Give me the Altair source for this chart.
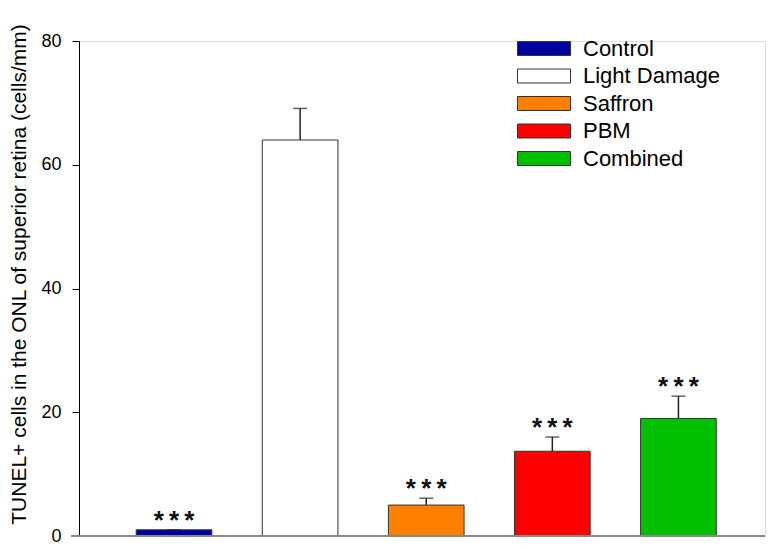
import altair as alt
import pandas as pd

groups = ["Control", "Light Damage", "Saffron", "PBM", "Combined"]
means = [1.0, 64.0, 5.0, 13.7, 19.0]
sems = [0.0, 5.1, 1.1, 2.3, 3.6]
stars = ["***", "", "***", "***", "***"]
colors = ["#0000a0", "#ffffff", "#ff8000", "#ff0000", "#00c000"]

df = pd.DataFrame({
    "group": groups,
    "mean": means,
    "sem": sems,
    "star": [s.replace("*", "*\u2009").strip() if s else "" for s in stars],
})
df["top"] = df["mean"] + df["sem"]

FONT = "Liberation Sans"
W, H = 686, 495

xenc = alt.X("group:N", sort=groups,
             scale=alt.Scale(paddingInner=0.4, paddingOuter=0.42, align=0.54),
             axis=None)
yscale = alt.Scale(domain=[0, 80], nice=False)

bars = alt.Chart(df).mark_bar(stroke="#333333", strokeWidth=1).encode(
    x=xenc,
    y=alt.Y("mean:Q", scale=yscale,
            axis=alt.Axis(values=[0, 20, 40, 60, 80], grid=False,
                          title="TUNEL+ cells in the ONL of superior retina (cells/mm)",
                          titleFontSize=21, titleFont=FONT, titleFontWeight="normal",
                          titleColor="#000", titleX=-50, titleY=233,
                          labelFontSize=18, labelFont=FONT, labelColor="#000",
                          labelPadding=11, tickSize=7, tickColor="#000",
                          domainColor="#000", domainWidth=1, tickWidth=1)),
    color=alt.Color("group:N", sort=groups,
                    scale=alt.Scale(domain=groups, range=colors),
                    legend=alt.Legend(orient="none", legendX=454, legendY=-3.5,
                                      title=None, padding=0,
                                      symbolType="M-3.786,-1H3.786V1H-3.786Z",
                                      symbolSize=196, symbolStrokeColor="#333333",
                                      symbolStrokeWidth=1, symbolOpacity=1,
                                      labelFontSize=22, labelFont=FONT,
                                      labelColor="#000", labelOffset=28,
                                      rowPadding=5.5, labelLimit=300)),
)

err = alt.Chart(df).mark_rule(color="#222222", strokeWidth=1.5).encode(
    x=xenc,
    y=alt.Y("mean:Q", scale=yscale),
    y2="top:Q",
)

caps = alt.Chart(df).mark_tick(color="#222222", thickness=1.5, size=14).encode(
    x=xenc,
    y=alt.Y("top:Q", scale=yscale),
)

txt = alt.Chart(df).mark_text(font=FONT, fontSize=26, fontWeight="bold",
                              baseline="alphabetic", dy=-1, color="#111111").encode(
    x=xenc,
    y=alt.Y("top:Q", scale=yscale),
    text="star:N",
)

xline = alt.Chart(df).mark_rule(color="#888888", strokeWidth=2).encode(
    x=alt.value(-8), x2=alt.value(W), y=alt.value(H),
)

chart = alt.layer(bars, err, caps, txt, xline).properties(
    width=W, height=H,
    autosize=alt.AutoSizeParams(type="none"),
    padding={"left": 71, "top": 33, "right": 2, "bottom": 8},
).configure_view(stroke=None).configure(background="white")

chart.save("out.html", embed_options={"renderer": "svg", "actions": False})
